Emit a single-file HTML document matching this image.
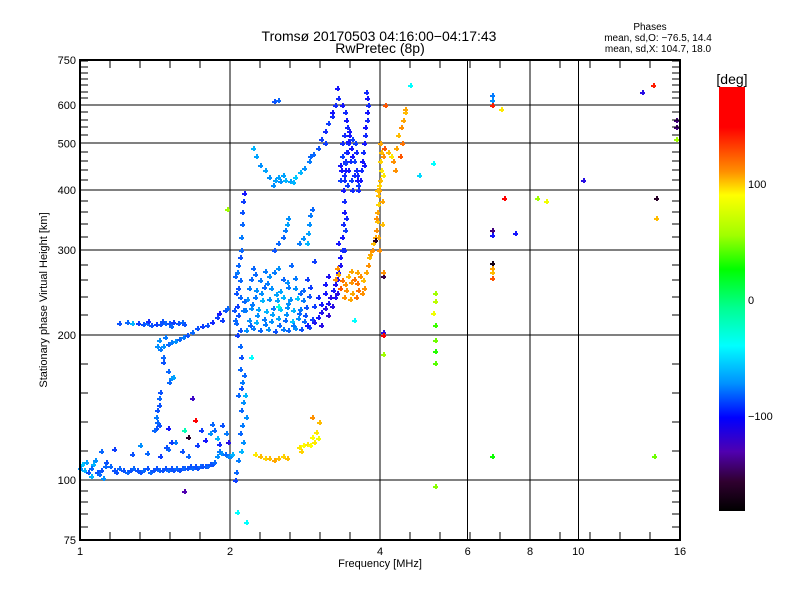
<!DOCTYPE html>
<html><head><meta charset="utf-8"><style>
html,body{margin:0;padding:0;background:#fff;}
svg{display:block;font-family:"Liberation Sans",sans-serif;}
</style></head><body>
<svg id="chart" width="800" height="600" viewBox="0 0 800 600" shape-rendering="crispEdges">
<defs>
<linearGradient id="cbg" x1="0" y1="0" x2="0" y2="1">
<stop offset="0" stop-color="#ff0000"/>
<stop offset="0.095" stop-color="#ff0000"/>
<stop offset="0.2" stop-color="#ff9000"/>
<stop offset="0.255" stop-color="#ffff00"/>
<stop offset="0.35" stop-color="#a0ff00"/>
<stop offset="0.43" stop-color="#00ff00"/>
<stop offset="0.52" stop-color="#00ff90"/>
<stop offset="0.61" stop-color="#00ffff"/>
<stop offset="0.7" stop-color="#0090ff"/>
<stop offset="0.78" stop-color="#0000ff"/>
<stop offset="0.86" stop-color="#5000b0"/>
<stop offset="0.93" stop-color="#300030"/>
<stop offset="1" stop-color="#000000"/>
</linearGradient>
</defs>
<text x="379" y="41" font-size="14" text-anchor="middle">Tromsø 20170503 04:16:00−04:17:43</text>
<text x="380" y="53" font-size="14" text-anchor="middle">RwPretec (8p)</text>
<text x="650" y="30" font-size="10" text-anchor="middle">Phases</text>
<text x="658" y="41" font-size="10" text-anchor="middle">mean, sd,O: −76.5, 14.4</text>
<text x="658" y="52" font-size="10" text-anchor="middle">mean, sd,X: 104.7, 18.0</text>
<g id="grid"></g>
<g id="marks"></g>
<g id="axes"></g>
<rect x="719" y="87" width="26" height="424" fill="url(#cbg)"/>
<text x="732" y="84" font-size="14" text-anchor="middle">[deg]</text>
<g id="cbticks"></g>
<text x="380" y="567" font-size="11" text-anchor="middle">Frequency [MHz]</text>
<text x="0" y="0" font-size="11" text-anchor="middle" transform="translate(47,300) rotate(-90)">Stationary phase Virtual Height [km]</text>
</svg>
<script>
const xTickVals=[1,2,4,6,8,10,16];
const xTickLabels=["1","2","4","6","8","10","16"];
const yTickVals=[75,100,200,300,400,500,600,750];
const yTickLabels=["75","100","200","300","400","500","600","750"];
const xGridVals=[2,4,6,8,10];
const yGridVals=[100,200,300,400,500,600];
const cbVals=[100,0,-100];
const cbLabels=["100","0","−100"];
// traces: [freq MHz, height km, phase deg]
const eLayer=[[1.00,106,-70],[1.02,105,-60],[1.04,104,-85],[1.05,106,-80],[1.06,108,-60],[1.08,104,-85],[1.09,103,-80],[1.10,105,-85],[1.12,107,-80],[1.13,109,-85],[1.15,107,-80],[1.17,105,-85],[1.18,104,-85],[1.20,106,-80],[1.22,105,-85],[1.24,104,-80],[1.26,105,-85],[1.28,106,-80],[1.30,105,-85],[1.32,104,-85],[1.34,105,-80],[1.36,106,-85],[1.38,104,-80],[1.40,105,-85],[1.42,106,-85],[1.44,105,-80],[1.46,105,-85],[1.48,106,-85],[1.50,105,-80],[1.52,106,-85],[1.54,105,-85],[1.56,106,-80],[1.58,105,-85],[1.60,106,-85],[1.62,106,-80],[1.64,106,-85],[1.66,107,-85],[1.68,106,-80],[1.70,107,-85],[1.72,106,-85],[1.74,107,-80],[1.76,107,-85],[1.78,107,-85],[1.80,107,-80],[1.82,108,-85],[1.84,108,-85],[1.86,109,-80],[1.01,108,-55],[1.03,109,-65],[1.05,102,-60],[1.07,110,-70],[1.11,101,-70],[1.88,112,-70],[1.90,115,-75],[1.92,114,-70],[1.95,113,-80],[1.98,112,-75],[2.00,112,-70],[2.02,113,-60]];
const eScatter=[[1.10,115,-80],[1.17,116,-90],[1.27,113,-85],[1.32,118,-70],[1.36,114,-80],[1.45,112,-90],[1.50,116,-80],[1.55,120,-75],[1.60,115,-85],[1.65,112,-80],[1.72,118,-90],[1.78,121,-100],[1.82,125,-70],[1.86,127,-80],[1.88,122,-60],[1.93,130,-85],[1.96,125,-75],[1.98,120,-110],[1.50,128,-100],[1.44,130,-85],[1.62,127,-20],[1.84,131,-80],[1.90,119,-95],[1.65,123,-160],[1.75,127,-90]];
const f1Low=[[1.20,212,-85],[1.24,213,-80],[1.27,212,-85],[1.31,212,-90],[1.34,211,-85],[1.36,212,-80],[1.39,210,-85],[1.42,211,-90],[1.45,211,-85],[1.48,212,-80],[1.51,212,-85],[1.54,213,-90],[1.57,212,-85],[1.60,213,-80],[1.37,214,-95],[1.46,214,-85],[1.52,209,-80],[1.62,211,-85],[1.43,190,-70],[1.45,187,-75],[1.47,190,-70],[1.50,192,-80],[1.52,193,-75],[1.55,194,-70],[1.58,196,-80],[1.61,198,-75],[1.64,200,-85],[1.68,203,-80],[1.72,207,-85],[1.76,209,-90],[1.80,210,-85],[1.84,213,-95],[1.88,218,-90],[1.90,222,-100],[1.93,215,-90],[1.95,225,-85],[1.97,228,-80],[1.44,195,-70],[1.48,198,-75],[1.47,180,-80],[1.47,176,-85],[1.52,163,-70],[1.54,164,-65],[1.51,160,-80],[1.45,152,-85],[1.44,148,-80],[1.44,143,-85],[1.42,135,-75],[1.43,132,-80],[1.42,128,-85],[1.41,127,-80],[1.43,140,-85],[1.50,168,-80],[1.52,120,-90],[1.49,117,-85]];
const vertTrace=[[2.07,86,-40],[2.05,100,-90],[2.06,104,-80],[2.08,110,-75],[2.10,115,-60],[2.12,120,-70],[2.09,125,-80],[2.11,130,-75],[2.10,140,-80],[2.12,145,-70],[2.08,150,-80],[2.10,155,-85],[2.11,160,-75],[2.09,170,-80],[2.10,180,-85],[2.09,190,-80],[2.07,200,-90],[2.09,205,-85],[2.06,212,-80],[2.08,220,-85],[2.07,230,-90],[2.09,240,-80],[2.08,250,-85],[2.09,260,-80],[2.07,270,-75],[2.08,280,-80],[2.09,290,-85],[2.10,300,-80],[2.10,320,-75],[2.11,340,-80],[2.11,360,-85],[2.12,380,-90],[2.13,395,-100],[2.05,215,-80],[2.06,245,-85],[2.05,265,-80],[2.12,225,-75],[2.13,235,-80],[2.04,225,-85],[2.14,150,-60],[2.15,135,-70],[2.13,165,-80]];
const cloud=[[2.15,205,-70],[2.22,207,-75],[2.30,205,-80],[2.38,206,-70],[2.46,204,-85],[2.55,206,-75],[2.62,205,-80],[2.70,207,-70],[2.78,206,-85],[2.88,208,-90],[2.18,215,-70],[2.26,213,-60],[2.34,216,-75],[2.42,214,-70],[2.50,217,-65],[2.58,215,-80],[2.66,214,-55],[2.74,217,-70],[2.82,214,-80],[2.92,216,-90],[3.00,218,-95],[2.14,225,-75],[2.20,228,-70],[2.28,226,-65],[2.36,224,-60],[2.44,228,-75],[2.52,226,-55],[2.60,229,-70],[2.68,225,-60],[2.76,227,-75],[2.84,229,-85],[2.95,230,-90],[3.05,232,-100],[2.16,237,-70],[2.24,240,-75],[2.32,236,-60],[2.40,238,-70],[2.48,236,-65],[2.56,240,-60],[2.64,237,-70],[2.72,239,-55],[2.80,236,-75],[2.88,241,-85],[3.00,240,-95],[3.10,245,-100],[2.18,250,-75],[2.26,248,-70],[2.34,252,-80],[2.42,250,-70],[2.52,247,-65],[2.62,252,-75],[2.70,250,-70],[2.80,248,-80],[2.90,252,-90],[3.10,255,-100],[2.20,262,-80],[2.30,260,-75],[2.40,265,-70],[2.55,262,-80],[2.70,263,-75],[2.85,262,-90],[3.15,265,-105],[2.22,275,-80],[2.35,272,-75],[2.50,276,-70],[2.65,280,-80],[2.95,285,-90],[2.45,300,-85],[2.50,310,-80],[2.75,310,-75],[2.80,318,-70],[2.60,340,-65],[2.62,350,-70],[2.58,330,-75],[2.56,320,-80],[2.85,310,-60],[2.87,325,-65],[2.88,340,-70],[2.90,355,-75],[2.92,365,-80],[2.19,210,-80],[2.27,220,-70],[2.35,211,-75],[2.43,221,-65],[2.51,210,-80],[2.59,221,-70],[2.67,210,-75],[2.75,222,-80],[2.83,220,-85],[2.21,232,-75],[2.31,244,-70],[2.47,243,-65],[2.61,233,-70],[2.77,244,-80],[2.37,257,-75],[2.60,258,-70],[2.25,268,-80],[2.45,270,-75]];
const oTrace=[[2.85,210,-100],[2.95,213,-105],[3.00,218,-100],[3.05,223,-105],[3.10,228,-110],[3.15,233,-105],[3.18,240,-110],[3.22,248,-100],[3.25,255,-105],[3.28,262,-110],[3.30,270,-100],[3.32,280,-105],[3.33,290,-100],[3.35,300,-95],[3.36,320,-100],[3.37,340,-95],[3.38,360,-100],[3.38,380,-95],[3.37,400,-100],[3.39,420,-95],[3.40,440,-100],[3.41,460,-95],[3.43,480,-100],[3.45,500,-95],[3.46,520,-100],[3.44,540,-95],[3.42,560,-100],[3.40,580,-95],[3.35,600,-100],[3.30,620,-95],[3.28,650,-100],[3.05,210,-110],[3.15,220,-115],[3.20,230,-110],[3.25,240,-105],[3.28,245,-110],[3.38,300,-95],[3.40,330,-90],[3.42,350,-95],[3.30,310,-100],[3.32,420,-90],[3.38,430,-95],[3.45,440,-100],[3.50,420,-90],[3.55,430,-95],[3.33,450,-100],[3.40,455,-90],[3.48,460,-95],[3.52,470,-100],[3.35,470,-90],[3.42,480,-95],[3.50,490,-100],[3.56,500,-90],[3.36,500,-95],[3.45,505,-100],[3.52,510,-90],[3.38,520,-95],[3.47,530,-100],[3.55,460,-90],[3.58,440,-95],[3.60,420,-100],[3.62,410,-90],[3.58,480,-95],[3.34,440,-100],[3.44,410,-90],[3.52,400,-95],[3.62,400,-95],[3.65,420,-100],[3.66,440,-95],[3.68,460,-100],[3.70,480,-95],[3.72,500,-100],[3.73,520,-95],[3.74,540,-100],[3.76,560,-95],[3.77,580,-100],[3.78,600,-95],[3.76,620,-100],[3.75,640,-95],[3.72,450,-100],[3.60,430,-95]];
const upperTrace=[[2.22,490,-60],[2.26,470,-65],[2.30,450,-70],[2.35,440,-65],[2.40,425,-70],[2.46,420,-65],[2.52,418,-70],[2.58,420,-60],[2.64,418,-65],[2.70,425,-55],[2.76,435,-60],[2.82,445,-70],[2.88,460,-75],[2.94,475,-80],[3.00,490,-85],[3.05,510,-90],[3.10,530,-95],[3.15,550,-90],[3.20,570,-95],[3.10,500,-90],[2.44,410,-70],[2.56,430,-65],[2.68,415,-60],[2.50,425,-65],[2.90,470,-80],[3.20,580,-100],[3.25,600,-95],[2.45,612,-85],[2.50,614,-80]];
const xTrace=[[3.25,262,120],[3.30,268,115],[3.35,260,125],[3.40,255,120],[3.45,265,110],[3.50,258,120],[3.55,262,125],[3.60,270,115],[3.65,265,120],[3.70,260,110],[3.72,250,120],[3.62,248,125],[3.52,245,115],[3.42,248,120],[3.32,250,130],[3.38,240,120],[3.48,238,115],[3.58,240,125],[3.68,245,120],[3.75,270,115],[3.78,280,120],[3.80,290,110],[3.28,275,120],[3.50,272,115],[3.60,256,125],[3.82,295,115],[3.85,300,120],[3.88,310,110],[3.90,320,115],[3.92,330,120],[3.94,345,110],[3.95,360,115],[3.96,375,105],[3.97,390,110],[3.98,400,115],[3.99,410,105],[4.00,420,110],[4.01,440,100],[4.00,460,105],[4.02,480,110],[4.00,500,115],[3.98,300,120],[3.96,320,115],[4.03,340,110],[4.04,380,115],[3.92,350,120],[3.94,400,110],[4.05,430,100],[4.06,470,120],[4.08,490,130],[4.15,480,110],[4.20,470,100],[4.25,460,120],[4.30,490,115],[4.35,520,110],[4.40,540,120],[4.45,560,115],[4.48,580,110],[4.42,500,125],[4.38,470,130],[4.28,440,120],[4.50,590,115]];
const lowX=[[2.30,112,110],[2.35,111,105],[2.40,111,110],[2.45,110,115],[2.50,111,110],[2.55,112,105],[2.60,111,110],[2.25,113,100],[2.75,117,100],[2.80,118,95],[2.85,119,100],[2.90,118,95],[2.95,120,100],[2.78,115,105],[2.92,123,95],[2.98,126,100],[3.02,132,110],[2.92,135,120],[3.00,122,90]];
const sparse=[[5.15,97,55],[5.15,175,45],[5.15,185,35],[5.15,195,50],[5.10,222,90],[5.15,210,40],[5.15,245,60],[5.15,235,70],[4.05,203,-110],[4.05,200,170],[4.05,183,60],[4.05,265,-150],[4.05,270,120],[6.70,112,30],[6.70,263,130],[6.70,270,110],[6.70,275,115],[6.70,282,-170],[6.70,322,-100],[6.70,330,-140],[7.45,325,-100],[7.10,385,150],[8.25,385,60],[8.60,380,90],[6.70,600,140],[6.70,615,-70],[6.70,630,-75],[7.00,590,100],[10.2,420,-110],[13.4,640,-110],[14.1,660,140],[14.3,385,-160],[14.3,350,110],[14.2,112,50],[15.7,560,-140],[15.7,540,-140],[15.7,510,60],[4.60,660,-40],[5.10,455,-40],[4.80,430,-50],[1.70,133,175],[1.62,95,-130],[2.15,82,-40],[1.68,148,-120],[1.97,365,60],[1.27,212,-60],[2.2,180,-40],[2.5,230,-30],[3.55,215,-40],[3.9,315,-160],[4.1,600,130]];

const X0=80, PX_OCT=150, Y100=480, PY_OCT=145;
function xs(f){return X0+PX_OCT*Math.log2(f);}
function ys(h){return Y100-PY_OCT*Math.log2(h/100);}
const cStops=[[185,[255,0,0]],[145,[255,0,0]],[120,[255,144,0]],[95,[255,255,0]],[60,[160,255,0]],[28,[0,255,0]],[-10,[0,255,144]],[-40,[0,255,255]],[-70,[0,144,255]],[-100,[20,20,255]],[-130,[80,0,176]],[-155,[48,0,48]],[-181,[0,0,0]]];
function col(p){
  for(let i=0;i<cStops.length-1;i++){const a=cStops[i],b=cStops[i+1];
    if(p<=a[0]&&p>=b[0]){const t=(a[0]-p)/(a[0]-b[0]);const c=a[1].map((v,k)=>Math.round(v+(b[1][k]-v)*t));return 'rgb('+c[0]+','+c[1]+','+c[2]+')';}}
  return p>0?'rgb(255,0,0)':'rgb(0,0,0)';
}
const NS='http://www.w3.org/2000/svg';
function mk(tag,attrs,parent){const e=document.createElementNS(NS,tag);for(const k in attrs)e.setAttribute(k,attrs[k]);parent.appendChild(e);return e;}
const grid=document.getElementById('grid'),marks=document.getElementById('marks'),axes=document.getElementById('axes'),cbt=document.getElementById('cbticks');
xGridVals.forEach(v=>{const l=mk('line',{x1:xs(v),x2:xs(v),y1:60,y2:540,stroke:'#000','stroke-width':1},grid);

});
yGridVals.forEach(v=>{const l=mk('line',{x1:80,x2:680,y1:Math.round(ys(v)),y2:Math.round(ys(v)),stroke:'#000','stroke-width':1},grid);

});
const traces=[cloud,eScatter,eLayer,f1Low,vertTrace,upperTrace,oTrace,xTrace,lowX,sparse];
traces.forEach(tr=>tr.forEach(d=>{const x=Math.round(xs(d[0])),y=Math.round(ys(d[1])),c=col(d[2]);
const g=mk('g',{fill:c},marks);


mk('rect',{x:x-2,y:y,width:5,height:2},g);mk('rect',{x:x,y:y-2,width:2,height:5},g);}));
const fr=mk('rect',{x:80,y:60,width:600,height:480,fill:'none',stroke:'#000','stroke-width':2},axes);


for(let k=0;k<=20;k++){const x=X0+k*30;
mk('line',{x1:x,x2:x,y1:540,y2:532,stroke:'#000'},axes);mk('line',{x1:x,x2:x,y1:60,y2:68,stroke:'#000'},axes);}
const yMinor=[];for(let v=75;v<100;v+=5)yMinor.push(v);for(let k=1;k<5;k++)yMinor.push(100*Math.pow(2,k/5));for(let v=200;v<=740;v+=20)yMinor.push(v);
yMinor.forEach(v=>{const y=Math.round(ys(v));mk('line',{x1:80,x2:88,y1:y,y2:y,stroke:'#000'},axes);mk('line',{x1:672,x2:680,y1:y,y2:y,stroke:'#000'},axes);});
xTickVals.forEach((v,i)=>{const t=mk('text',{x:xs(v),y:555,'font-size':11,'text-anchor':'middle'},axes);t.textContent=xTickLabels[i];

});
yTickVals.forEach((v,i)=>{const y=Math.min(Math.max(ys(v),60),540);const t=mk('text',{x:76,y:y+4,'font-size':11,'text-anchor':'end'},axes);t.textContent=yTickLabels[i];

});
cbVals.forEach((v,i)=>{const y=300-v*1.16;const t=mk('text',{x:748,y:y+4,'font-size':11},cbt);t.textContent=cbLabels[i];

});
</script>
</body></html>
